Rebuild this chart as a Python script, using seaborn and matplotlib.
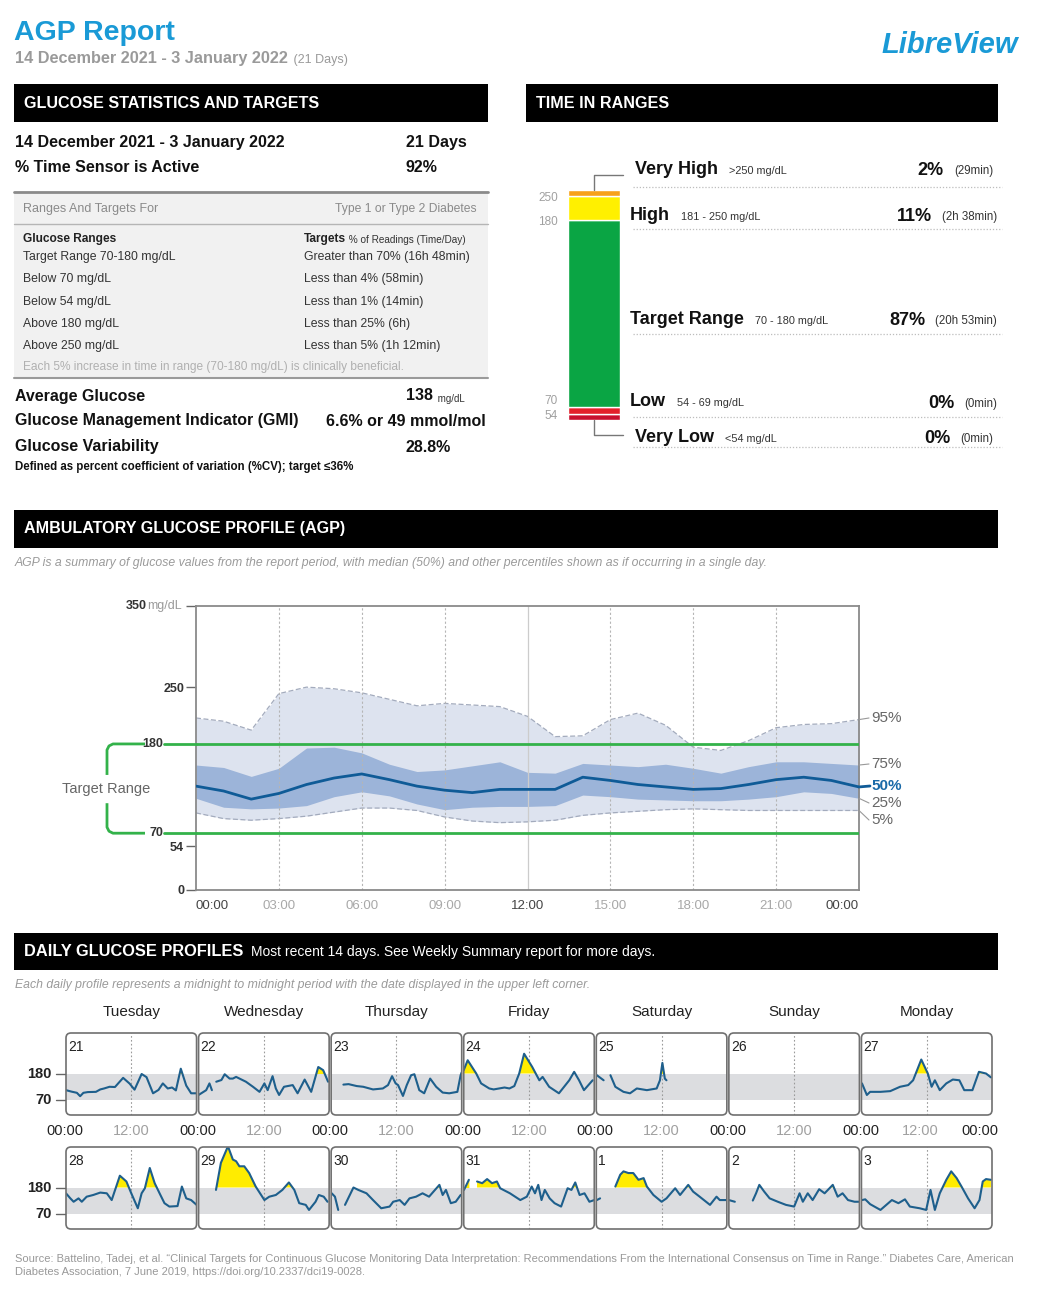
import numpy as np
import pandas as pd
import matplotlib
matplotlib.use("Agg")
import matplotlib.pyplot as plt
from matplotlib.patches import Rectangle, FancyBboxPatch
import seaborn as sns

W, H = 1040, 1294

# ---------------- data ----------------
period = "14 December 2021 - 3 January 2022"
n_days = 21
sensor_active = "92%"

range_names = ["Target Range 70-180 mg/dL", "Below 70 mg/dL", "Below 54 mg/dL",
               "Above 180 mg/dL", "Above 250 mg/dL"]
range_targets = ["Greater than 70% (16h 48min)", "Less than 4% (58min)", "Less than 1% (14min)",
                 "Less than 25% (6h)", "Less than 5% (1h 12min)"]

avg_glucose = "138"
gmi = "6.6% or 49 mmol/mol"
variability = "28.8%"

# time in ranges, bottom to top
tir_names = ["Very Low", "Low", "Target Range", "High", "Very High"]
tir_ranges = ["<54 mg/dL", "54 - 69 mg/dL", "70 - 180 mg/dL", "181 - 250 mg/dL", ">250 mg/dL"]
tir_pct = [0, 0, 87, 11, 2]
tir_time = ["(0min)", "(0min)", "(20h 53min)", "(2h 38min)", "(29min)"]
tir_bounds = ["54", "70", "180", "250"]

# AGP percentiles (mg/dL) by hour of day
agp_hours = [0, 1, 2, 3, 4, 5, 6, 7, 8, 9, 10, 11, 12, 13, 14, 15, 16, 17, 18, 19, 20, 21, 22, 23, 24]
agp_p95 = [212, 208, 197, 242, 250, 248, 243, 235, 227, 230, 228, 226, 214, 189, 190, 210, 218, 203, 176, 172, 184, 200, 204, 205, 210]
agp_p75 = [154, 151, 140, 150, 175, 176, 169, 155, 146, 148, 153, 158, 145, 144, 156, 154, 152, 155, 150, 144, 152, 158, 158, 156, 154]
agp_p50 = [128, 122, 112, 119, 130, 138, 143, 136, 128, 123, 120, 124, 124, 124, 139, 135, 130, 127, 124, 125, 130, 136, 139, 135, 127]
agp_p25 = [113, 102, 100, 101, 104, 115, 121, 116, 106, 99, 102, 103, 103, 104, 117, 115, 112, 111, 110, 110, 112, 115, 121, 119, 113]
agp_p05 = [95, 88, 86, 88, 91, 96, 101, 101, 98, 90, 85, 83, 84, 86, 92, 95, 97, 99, 100, 99, 98, 98, 98, 98, 98]
agp_tick_hours = [0, 3, 6, 9, 12, 15, 18, 21, 24]
agp_tick_labels = ["00:00", "03:00", "06:00", "09:00", "12:00", "15:00", "18:00", "21:00", "00:00"]

weekdays = ["Tuesday", "Wednesday", "Thursday", "Friday", "Saturday", "Sunday", "Monday"]
week1_dates = ["21", "22", "23", "24", "25", "26", "27"]
week2_dates = ["28", "29", "30", "31", "1", "2", "3"]

# daily traces: (hour, mg/dL), None = sensor gap
day_21 = [(0, 111), (1, 105), (2, 100), (2.6, 86), (3.2, 100), (4, 103), (5.5, 104), (6.3, 114), (7, 118),
          (8, 125), (9, 124), (10.5, 162), (11.7, 138), (12.6, 113), (13.9, 178), (14.8, 165), (16, 98),
          (17, 112), (17.8, 139), (18.7, 118), (19.5, 122), (20.2, 110), (21.1, 200), (22.1, 130), (23, 98), (24, 98)]
day_22 = [(0, 91), (1.4, 111), (2.0, 139), (2.45, 111), None, (3.25, 146), (4.2, 153), (4.8, 177), (5.7, 159),
          (6.3, 159), (6.9, 166), (8.7, 146), (10, 125), (11.2, 104), (12.1, 139), (12.7, 111), (13.6, 169),
          (14.2, 118), (14.8, 91), (15.7, 125), (17.3, 132), (18.2, 98), (19.5, 155), (20.7, 104), (22, 207),
          (22.9, 194), (23.8, 146)]
day_23 = [(2.25, 134), (3.2, 136), (4.7, 128), (5.9, 125), (7.7, 114), (9.5, 118), (10.45, 132), (11.2, 169),
          (11.85, 139), (12.3, 132), (13.2, 87), (13.9, 132), (14.7, 173), (15.3, 177), (16.2, 111), (17.1, 98),
          (18.2, 159), (19.3, 125), (20.5, 101), (21.7, 98), (23.2, 104), (23.8, 173), (24, 185)]
day_24 = [(0, 194), (0.73, 235), (2.3, 180), (3.2, 139), (4.7, 118), (5.5, 114), (6.5, 118), (7.5, 122),
          (8.4, 118), (9.3, 128), (10.2, 180), (11.1, 262), (12.6, 207), (13.9, 152), (14.5, 166), (15.7, 125),
          (17.5, 98), (19.4, 152), (20.3, 187), (21.2, 152), (22.1, 111), (23.7, 152)]
day_25 = [(0.1, 173), (1.35, 152), None, (2.6, 173), (3.5, 125), (5.0, 104), (6.2, 98), (7.45, 118), (9.3, 111),
          (11.1, 118), (11.7, 152), (12.15, 224), (12.6, 159), (12.9, 152)]
day_26 = []
day_27 = [(0.1, 139), (1.0, 91), (1.6, 104), (3.5, 104), (5.3, 107), (7.1, 125), (8.6, 132), (9.5, 152),
          (11.0, 238), (12.2, 180), (12.9, 125), (13.5, 152), (14.4, 111), (15.6, 139), (16.8, 155), (18.0, 152),
          (18.9, 111), (20.4, 111), (21.6, 187), (22.9, 180), (23.8, 164)]
day_28 = [(0, 156), (0.8, 135), (1.4, 121), (2.3, 135), (2.9, 121), (3.8, 142), (5.0, 149), (6.3, 159), (7.5, 156),
          (8.4, 128), (9.9, 229), (11.1, 205), (12.0, 156), (13.2, 94), (13.9, 156), (14.5, 177), (15.4, 261),
          (16.3, 198), (17.2, 156), (18.1, 115), (19.0, 101), (20.5, 103), (21.3, 184), (22.1, 135), (23.0, 128), (24, 108)]
day_29 = [(3.2, 170), (4.1, 282), (5.4, 351), (6.3, 296), (6.9, 289), (7.5, 268), (8.4, 268), (9.3, 240),
          (10.5, 184), (12.1, 128), (13.0, 142), (14.2, 149), (15.4, 170), (16.6, 201), (17.6, 170), (18.5, 115),
          (19.7, 108), (20.3, 87), (21.5, 121), (22.1, 149), (23.0, 142), (23.7, 121)]
day_30 = [(0.1, 156), (0.7, 142), (1.3, 87), None, (2.55, 108), (4.1, 180), (5.0, 170), (6.5, 156), (7.7, 128),
          (9.2, 94), (10.75, 101), (11.4, 121), (12.6, 128), (13.5, 108), (14.4, 135), (15.6, 142), (16.8, 156),
          (18.0, 142), (19.9, 191), (20.5, 149), (21.1, 170), (22.0, 115), (22.9, 121), (23.8, 149)]
day_31 = [(0.05, 170), (0.95, 212), None, (2.45, 205), (3.4, 198), (4.3, 215), (5.2, 198), (6.1, 205), (6.7, 177),
          (8.5, 156), (10.4, 128), (11.6, 142), (12.5, 184), (13.1, 156), (13.7, 191), (14.3, 128), (14.9, 170),
          (15.8, 135), (16.7, 115), (17.9, 101), (19.1, 177), (19.8, 170), (20.5, 201), (21.3, 149), (22.2, 156),
          (23.1, 121), (24, 128)]
day_1 = [(0.1, 128), (0.7, 135), None, (3.5, 184), (4.4, 233), (5.0, 247), (5.9, 240), (6.8, 240), (7.75, 212),
         (8.7, 219), (9.3, 184), (10.5, 149), (12.0, 121), (12.9, 135), (14.5, 177), (15.4, 149), (16.9, 191),
         (17.8, 163), (19.0, 142), (20.9, 108), (22.1, 142), (22.7, 128), (23.9, 128)]
day_2 = [(0, 128), (1.1, 121), None, (4.4, 126), (5.0, 156), (5.6, 191), (6.5, 163), (7.5, 135), (9.0, 121),
         (10.5, 108), (12.0, 101), (13.0, 156), (13.6, 121), (14.5, 156), (15.4, 128), (16.6, 173), (17.6, 156),
         (19.1, 191), (20.0, 142), (20.9, 156), (21.9, 128), (23.1, 121), (23.9, 121)]
day_3 = [(0.1, 128), (0.7, 131), (1.6, 111), (3.5, 87), (5.6, 128), (6.8, 115), (8.0, 131), (8.9, 101),
         (10.7, 94), (11.9, 87), (12.7, 170), (13.5, 87), (14.4, 156), (15.6, 212), (16.5, 247), (17.5, 219),
         (18.4, 184), (19.6, 135), (20.8, 94), (21.7, 128), (22.3, 205), (22.9, 215), (23.8, 212)]

week1_days = [day_21, day_22, day_23, day_24, day_25, day_26, day_27]
week2_days = [day_28, day_29, day_30, day_31, day_1, day_2, day_3]

agp_note = ("AGP is a summary of glucose values from the report period, with median (50%) and other "
            "percentiles shown as if occurring in a single day.")
daily_note = ("Each daily profile represents a midnight to midnight period with the date displayed "
              "in the upper left corner.")
source1 = ("Source: Battelino, Tadej, et al. \u201cClinical Targets for Continuous Glucose Monitoring Data "
           "Interpretation: Recommendations From the International Consensus on Time in Range.\u201d "
           "Diabetes Care, American")
source2 = "Diabetes Association, 7 June 2019, https://doi.org/10.2337/dci19-0028."

# ---------------- style ----------------
sns.set_theme(style="white")
plt.rcParams["font.family"] = ["Liberation Sans", "DejaVu Sans"]

blue = "#1a9ad6"
green = "#33b24a"
yellow = "#ffec00"
trace_col = "#1e5f8c"
tir_colors = ["#c8102e", "#e3202a", "#0aa544", "#fff000", "#f7a11a"]

fig = plt.figure(figsize=(W / 100, H / 100), dpi=100, facecolor="white")


def px_axes(x0, y0, x1, y1):
    return fig.add_axes([x0 / W, 1 - y1 / H, (x1 - x0) / W, (y1 - y0) / H])


bg = px_axes(0, 0, W, H)
bg.set_xlim(0, W); bg.set_ylim(H, 0); bg.axis("off"); bg.set_zorder(-5)
top = px_axes(0, 0, W, H)
top.set_xlim(0, W); top.set_ylim(H, 0); top.axis("off"); top.set_zorder(5)
top.patch.set_alpha(0)


def put(x, y, s, size=9, color="#222", weight="normal", ha="left", va="center", style="normal"):
    return top.text(x, y, s, fontsize=size, color=color, fontweight=weight, ha=ha, va=va, fontstyle=style)


def follow(t, s, size, color, weight="normal", gap=0, dy=0):
    return top.annotate(s, xy=(1, 0), xycoords=t, xytext=(gap, dy), textcoords="offset pixels",
                        fontsize=size, color=color, fontweight=weight, ha="left", va="bottom")


def to_px(ax, x, y):
    return top.transData.inverted().transform(ax.transData.transform((x, y)))


def segments(points):
    out, seg = [], []
    for p in points:
        if p is None:
            if seg:
                out.append(seg)
            seg = []
        else:
            seg.append(p)
    if seg:
        out.append(seg)
    return out


def header_bar(x0, y0, x1, y1, text, size=11.6):
    bg.add_patch(Rectangle((x0, y0), x1 - x0, y1 - y0, color="black", lw=0))
    return put(x0 + 10, (y0 + y1) / 2, text, size, "white", "bold")


# ---------------- header ----------------
put(14, 33, "AGP Report", 20.5, blue, "bold")
t = put(15, 59, period, 11.7, "#9a9a9a", "bold")
follow(t, " (%d Days)" % n_days, 9, "#9a9a9a", gap=2)
put(1018, 45, "LibreView", 21, blue, "bold", ha="right", style="italic")

# ---------------- glucose statistics ----------------
header_bar(14, 84, 488, 122, "GLUCOSE STATISTICS AND TARGETS")
put(15, 143, period, 11.5, "#111", "bold")
put(406, 143, "%d Days" % n_days, 11.5, "#111", "bold")
put(15, 168, "% Time Sensor is Active", 11.5, "#111", "bold")
put(406, 168, sensor_active, 11.5, "#111", "bold")

bg.add_patch(Rectangle((14, 192), 474, 186, color="#f1f1f1", lw=0))
top.plot([14, 488], [192, 192], color="#8a8a8a", lw=2)
top.plot([14, 488], [224, 224], color="#b5b5b5", lw=1)
top.plot([14, 488], [378, 378], color="#9a9a9a", lw=1.5)
put(23, 209, "Ranges And Targets For", 9, "#8a8a8a")
put(477, 209, "Type 1 or Type 2 Diabetes", 8.7, "#8a8a8a", ha="right")
put(23, 239, "Glucose Ranges", 8.6, "#222", "bold")
t = put(304, 239, "Targets", 8.6, "#222", "bold")
follow(t, " % of Readings (Time/Day)", 7.2, "#333")
for y, a, b in zip([257, 279, 302, 324, 346], range_names, range_targets):
    put(23, y, a, 8.8, "#333")
    put(304, y, b, 8.8, "#333")
put(23, 367, "Each 5% increase in time in range (70-180 mg/dL) is clinically beneficial.", 8.6, "#b0b0b0")

put(15, 396, "Average Glucose", 11.5, "#111", "bold")
t = put(406, 396, avg_glucose, 11.5, "#111", "bold")
follow(t, " mg/dL", 7, "#333", gap=2)
put(15, 421, "Glucose Management Indicator (GMI)", 11.5, "#111", "bold")
put(326, 421, gmi, 11.5, "#111", "bold")
put(15, 447, "Glucose Variability", 11.5, "#111", "bold")
put(406, 447, variability, 11.5, "#111", "bold")
put(15, 467, "Defined as percent coefficient of variation (%CV); target \u226436%", 8.3, "#111", "bold")

# ---------------- time in ranges ----------------
header_bar(526, 84, 998, 122, "TIME IN RANGES")
min_share = 3.0
shown = [max(p, min_share) for p in tir_pct]
axb = px_axes(568, 190, 620, 420)
bottom = 0
for p, c in zip(shown, tir_colors):
    axb.bar(0, p, bottom=bottom, width=1, color=c, edgecolor="white", linewidth=1)
    bottom += p
axb.set_xlim(-0.5, 0.5); axb.set_ylim(0, bottom); axb.axis("off")
bound_dy = [-2, 6, -2, -2]
for b, lab, dy in zip(np.cumsum(shown)[:-1], tir_bounds, bound_dy):
    axb.annotate(lab, xy=(0, b), xycoords=("axes fraction", "data"), xytext=(-10, dy),
                 textcoords="offset pixels", ha="right", va="center", fontsize=8.5, color="#a0a0a0",
                 annotation_clip=False)
top.plot([594, 594, 623], [190, 175, 175], color="#777", lw=1)
top.plot([594, 594, 623], [420, 435, 435], color="#777", lw=1)

name_x = [635, 630, 630, 630, 635]
row_y = [437, 402, 319, 215, 169]
dot_y = [447, 417, 334, 229, 187]
for i in range(5):
    t = put(name_x[i], row_y[i], tir_names[i], 13, "#111", "bold")
    follow(t, tir_ranges[i], 7.8, "#333", gap=11, dy=2)
    tt = put(997 if i in (1, 2, 3) else 993, row_y[i] + 2, tir_time[i], 8.3, "#333", ha="right")
    top.annotate("%d%%" % tir_pct[i], xy=(0, 0), xycoords=tt, xytext=(-10, -2), textcoords="offset pixels",
                 fontsize=13, color="#111", fontweight="bold", ha="right", va="bottom")
    top.plot([633, 1002], [dot_y[i], dot_y[i]], color="#bdbdbd", lw=0.9, ls=(0, (1, 1.5)))

# ---------------- AGP ----------------
header_bar(14, 510, 998, 548, "AMBULATORY GLUCOSE PROFILE (AGP)")
put(15, 563, agp_note, 8.8, "#9a9a9a", style="italic")

ax = px_axes(196, 606, 859, 890)
hrs = np.array(agp_hours, dtype=float)
ax.fill_between(hrs, agp_p05, agp_p95, color="#dde3ef", lw=0, zorder=1)
ax.fill_between(hrs, agp_p25, agp_p75, color="#9cb4d9", lw=0, zorder=1.2)
ax.plot(hrs, agp_p95, color="#a3abbd", lw=0.9, ls=(0, (4, 2)), zorder=1.3)
ax.plot(hrs, agp_p05, color="#a3abbd", lw=0.9, ls=(0, (4, 2)), zorder=1.3)
for h in [3, 6, 9, 15, 18, 21]:
    ax.axvline(h, color="#b5b5b5", lw=0.8, ls=(0, (2, 2)), zorder=1.5)
ax.axvline(12, color="#cccccc", lw=0.9, zorder=1.5)
ax.axhline(180, color=green, lw=2, zorder=3)
ax.axhline(70, color=green, lw=2, zorder=3)
sns.lineplot(x=hrs, y=agp_p50, color="#0f5b97", linewidth=2, ax=ax, zorder=4)
ax.set_xlim(0, 24); ax.set_ylim(0, 350)
ax.set_xlabel(""); ax.set_ylabel("")
ax.set_xticks([])
ax.set_yticks([0, 54, 250, 350])
ax.set_yticklabels(["0", "54", "250", ""])
ax.tick_params(axis="y", left=True, length=7, width=1, color="#666", pad=1.5, labelsize=9, labelcolor="#333")
for lab in ax.get_yticklabels():
    lab.set_fontweight("bold")
for s in ax.spines.values():
    s.set_color("#8a8a8a"); s.set_linewidth(1.3)

x350, y350 = to_px(ax, 0, 350)
put(147, y350, "350", 9, "#333", "bold", ha="right")
put(147, y350, "mg/dL", 9, "#9a9a9a")

# target range bracket
_, y180 = to_px(ax, 0, 180)
_, y70 = to_px(ax, 0, 70)
top.plot([145, 113, 109, 107, 107], [y180, y180, y180 + 2, y180 + 6, y180 + 31], color=green, lw=2,
         solid_capstyle="butt")
top.plot([107, 107, 109, 113, 145], [y70 - 30, y70 - 6, y70 - 2, y70, y70], color=green, lw=2,
         solid_capstyle="butt")
top.plot([164, 196], [y180, y180], color=green, lw=2)
top.plot([164, 196], [y70, y70], color=green, lw=2)
put(163, y180, "180", 9, "#333", "bold", ha="right")
put(163, y70, "70", 9, "#333", "bold", ha="right")
put(106, (y180 + y70) / 2, "Target Range", 10.5, "#666", ha="center")

for hx, lab in zip(agp_tick_hours, agp_tick_labels):
    px, _ = to_px(ax, hx, 0)
    ha = "left" if hx == 0 else ("right" if hx == 24 else "center")
    col = "#444" if hx in (0, 12, 24) else "#a8a8a8"
    put(px, 906, lab, 9.5, col, ha=ha)

# percentile labels on the right
pct_series = [agp_p95, agp_p75, agp_p50, agp_p25, agp_p05]
pct_labels = ["95%", "75%", "50%", "25%", "5%"]
label_y = [718, 764, 786, 803, 820]
for series, lab, ly in zip(pct_series, pct_labels, label_y):
    ex, ey = to_px(ax, 24, series[-1])
    if lab == "50%":
        top.plot([ex, ex + 11], [ey, ly], color="#0f5b97", lw=2)
        put(ex + 12, ly, lab, 11, "#1a6aa8", "bold")
    else:
        top.plot([ex, ex + 10], [ey, ly], color="#999", lw=0.8)
        put(ex + 12, ly, lab, 11, "#666")

# ---------------- daily profiles ----------------
t = header_bar(14, 933, 998, 970, "DAILY GLUCOSE PROFILES", 11.8)
follow(t, "Most recent 14 days. See Weekly Summary report for more days.", 10, "white", gap=8)
put(15, 985, daily_note, 8.8, "#9a9a9a", style="italic")

panel_w = (993 - 65) / 7
for c, name in enumerate(weekdays):
    put(65 + (c + 0.5) * panel_w, 1012, name, 11, "#222", ha="center")

for r, (y0, dates, traces) in enumerate([(1033, week1_dates, week1_days), (1147, week2_dates, week2_days)]):
    first_ax = None
    for c in range(7):
        x0 = 65 + c * panel_w
        axd = px_axes(x0 + 1, y0, x0 + panel_w - 1, y0 + 82)
        if first_ax is None:
            first_ax = axd
        axd.axhspan(70, 180, color="#dcdde0", lw=0, zorder=0.5)
        axd.axvline(12, color="#9a9a9a", lw=0.8, ls=(0, (1.5, 2)), zorder=0.8)
        rows = []
        for k, seg in enumerate(segments(traces[c])):
            hs = np.array([p[0] for p in seg], dtype=float)
            vs = np.array([p[1] for p in seg], dtype=float)
            axd.fill_between(hs, vs, 180, where=vs > 180, interpolate=True, color=yellow, lw=0, zorder=1)
            rows += [(k, h, v) for h, v in seg]
        if rows:
            df = pd.DataFrame(rows, columns=["seg", "hour", "mgdl"])
            sns.lineplot(data=df, x="hour", y="mgdl", units="seg", estimator=None, color=trace_col,
                         linewidth=1.5, ax=axd, legend=False, zorder=2)
        axd.set_xlim(0, 24); axd.set_ylim(8, 348)
        axd.axis("off")
        top.add_patch(FancyBboxPatch((x0 + 1, y0), panel_w - 2, 82,
                                     boxstyle="round,pad=0,rounding_size=5",
                                     fill=False, ec="#707070", lw=1.2))
        put(x0 + 3, y0 + 14, dates[c], 10, "#222")

    for v in (180, 70):
        _, py = to_px(first_ax, 0, v)
        top.plot([56, 65], [py, py], color="#666", lw=1)
        put(52, py, str(v), 10.5, "#222", "bold", ha="right")

    if r == 0:
        for c in range(7):
            x0 = 65 + c * panel_w
            put(x0, 1131, "00:00", 10.5, "#222", ha="center")
            put(x0 + panel_w / 2 - (6 if c == 6 else 0), 1131, "12:00", 10.5, "#a0a0a0", ha="center")
        put(998, 1131, "00:00", 10.5, "#222", ha="right")

# ---------------- footer ----------------
put(15, 1259, source1, 8, "#999")
put(15, 1272, source2, 8, "#999")

fig.savefig("out.png", dpi=100, facecolor="white")
